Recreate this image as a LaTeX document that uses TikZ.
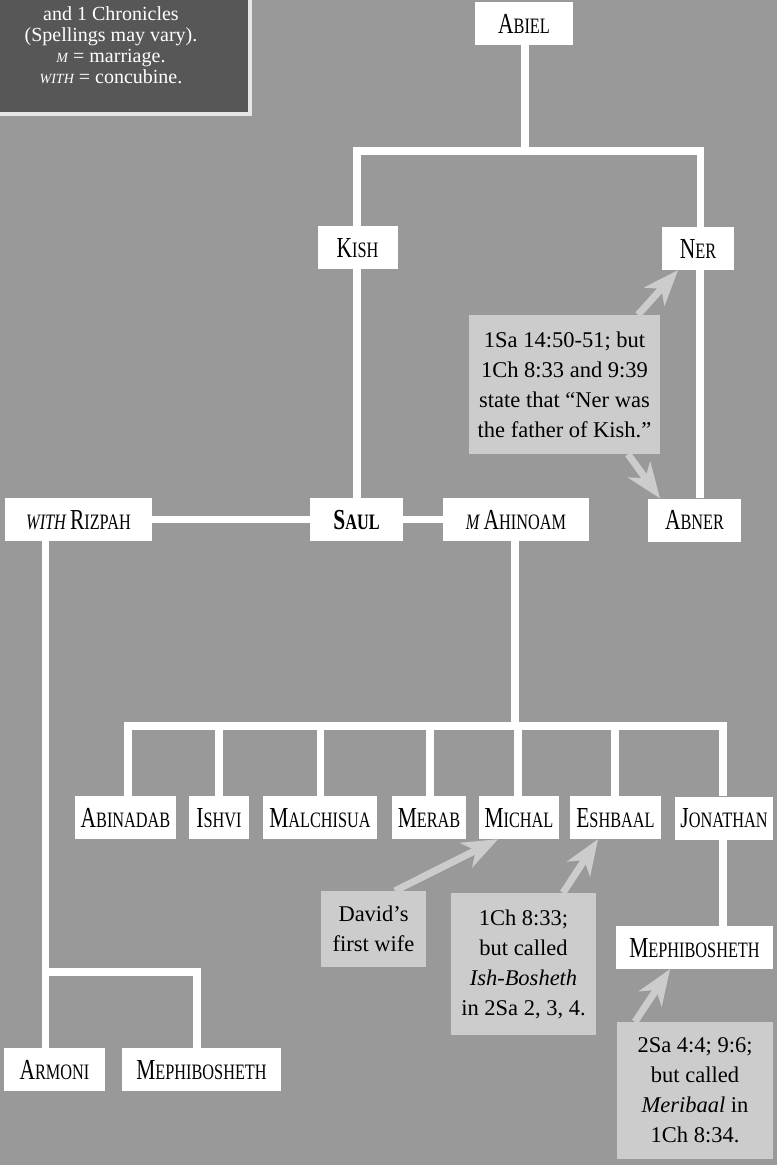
\documentclass[tikz,border=0pt]{standalone}
\usepackage{fontspec}
\setmainfont{Liberation Serif}
\newfontfamily\nmfont{Liberation Serif}[FakeStretch=0.74]
\usetikzlibrary{arrows.meta}
\definecolor{bgcol}{HTML}{999999}
\definecolor{legendbg}{HTML}{575757}
\definecolor{legendedge}{HTML}{E6E6E6}
\definecolor{notebg}{HTML}{CCCCCC}
\newcommand\capA[1]{{\fontsize{29}{29}\selectfont #1}}
\newcommand\capB[1]{{\fontsize{22}{22}\selectfont #1}}
\newcommand\pname[2]{\capA{#1}\capB{#2}}
\newcommand\legsc[1]{{\itshape\fontsize{14}{14}\selectfont #1}}
\tikzset{
  famline/.style={draw=white, line width=7.5pt, line join=miter},
  namebox/.style={fill=white, inner sep=0pt, minimum height=43pt, text height=19pt, text depth=0pt,
    font=\nmfont\fontsize{22}{22}\selectfont},
  notebox/.style={fill=notebg, inner sep=0pt, align=center, text=black,
    font=\fontsize{22.5}{30}\selectfont},
  notearrow/.style={draw=notebg, line width=7pt,
    -{Stealth[length=36pt 0 0, width=28pt 0 0, inset=11pt 0 0, line width=0pt 0 0]}},
  legtext/.style={text=white, anchor=base, inner sep=0pt, font=\fontsize{20}{21}\selectfont}
}
\begin{document}
\begin{tikzpicture}[x=1pt,y=-1pt]
\useasboundingbox (0,0) rectangle (777,1165);
\fill[bgcol] (0,0) rectangle (777,1165);
% legend
\fill[legendedge] (0,0) rectangle (252,116);
\fill[legendbg] (0,0) rectangle (248,112);
\node[legtext] (leg1) at (111,20) {and 1 Chronicles};
\node[legtext] (leg2) at (111,41) {(Spellings may vary).};
\node[legtext] (leg3) at (111,62) {\legsc{M} = marriage.};
\node[legtext] (leg4) at (111,83) {\legsc{WITH} = concubine.};
% name boxes
\node[namebox, minimum width=98pt] (abiel) at (524,23.5) {\pname{A}{BIEL}};
\node[namebox, minimum width=80pt] (kish) at (357.5,247.5) {\pname{K}{ISH}};
\node[namebox, minimum width=72pt] (ner) at (698,248.5) {\pname{N}{ER}};
\node[namebox, minimum width=147pt] (rizpah) at (78.5,519.5) {\capB{\itshape WITH} \pname{R}{IZPAH}};
\node[namebox, minimum width=93pt] (saul) at (356.5,519.5) {\bfseries\pname{S}{AUL}};
\node[namebox, minimum width=146pt] (ahinoam) at (516,519.5) {\capB{\itshape M} \pname{A}{HINOAM}};
\node[namebox, minimum width=93pt] (abner) at (694.5,520) {\pname{A}{BNER}};
\node[namebox, minimum width=101pt] (abinadab) at (125.5,817.5) {\pname{A}{BINADAB}};
\node[namebox, minimum width=60pt] (ishvi) at (219,817.5) {\pname{I}{SHVI}};
\node[namebox, minimum width=114pt] (malchisua) at (320,817.5) {\pname{M}{ALCHISUA}};
\node[namebox, minimum width=74pt] (merab) at (429,817.5) {\pname{M}{ERAB}};
\node[namebox, minimum width=80pt] (michal) at (519,817.5) {\pname{M}{ICHAL}};
\node[namebox, minimum width=91pt] (eshbaal) at (615.5,817.5) {\pname{E}{SHBAAL}};
\node[namebox, minimum width=98pt] (jonathan) at (724,818) {\pname{J}{ONATHAN}};
\node[namebox, minimum width=157pt] (meph2) at (694.5,947.5) {\pname{M}{EPHIBOSHETH}};
\node[namebox, minimum width=101pt] (armoni) at (54.5,1069.5) {\pname{A}{RMONI}};
\node[namebox, minimum width=159pt] (meph1) at (201.5,1069.5) {\pname{M}{EPHIBOSHETH}};
% notes
\node[notebox, minimum width=191pt, minimum height=139pt] (nernote) at (564.5,384.5)
  {1Sa 14:50-51; but\\1Ch 8:33 and 9:39\\state that “Ner was\\the father of Kish.”};
\node[notebox, minimum width=105pt, minimum height=76pt] (davidnote) at (373.5,929)
  {David’s\\first wife};
\node[notebox, minimum width=145pt, minimum height=142pt] (eshnote) at (523.5,964)
  {1Ch 8:33;\\but called\\\textit{Ish-Bosheth}\\in 2Sa 2, 3, 4.};
\node[notebox, minimum width=156pt, minimum height=137pt] (mephnote) at (695,1090.5)
  {2Sa 4:4; 9:6;\\but called\\\textit{Meribaal} in\\1Ch 8:34.};
% family lines
\coordinate (abar) at (0,151);
\coordinate (sbar) at (0,726);
\coordinate (rbar) at (45.5,972);
\draw[famline] (abiel.south -| 525,0) -- (abar -| 525,0);
\draw[famline] (kish.north -| 357,0) |- (abar -| 700.5,0) -- (ner.north -| 700.5,0);
\draw[famline] (kish.south -| 357,0) -- (saul.north -| 357,0);
\draw[famline] (ner.south -| 700,0) -- (abner.north -| 700,0);
\draw[famline] (rizpah.east) -- (saul.west);
\draw[famline] (saul.east) -- (ahinoam.west);
\draw[famline] (ahinoam.south -| 515,0) -- (sbar -| 515,0);
\draw[famline] (abinadab.north -| 128,0) |- (sbar -| 723,0) -- (jonathan.north -| 723,0);
\foreach \n/\x in {ishvi/219, malchisua/320.5, merab/430, michal/518, eshbaal/615}
  \draw[famline] (\n.north -| \x,0) -- (sbar -| \x,0);
\draw[famline] (jonathan.south -| 723,0) -- (meph2.north -| 723,0);
\draw[famline] (rizpah.south -| 45.5,0) -- (armoni.north -| 45.5,0);
\draw[famline] (rbar) -| (meph1.north -| 197,0);
% note arrows
\draw[notearrow] (nernote.north -| 638,0) -- (ner.south -| 678,0);
\draw[notearrow] (nernote.south -| 628,0) -- (abner.north -| 660,0);
\draw[notearrow] (davidnote.north -| 395,0) -- (michal.south -| 498,0);
\draw[notearrow] (eshnote.north -| 563,0) -- (eshbaal.south -| 598,0);
\draw[notearrow] (mephnote.north -| 635,0) -- (meph2.south -| 670,0);
\end{tikzpicture}
\end{document}
